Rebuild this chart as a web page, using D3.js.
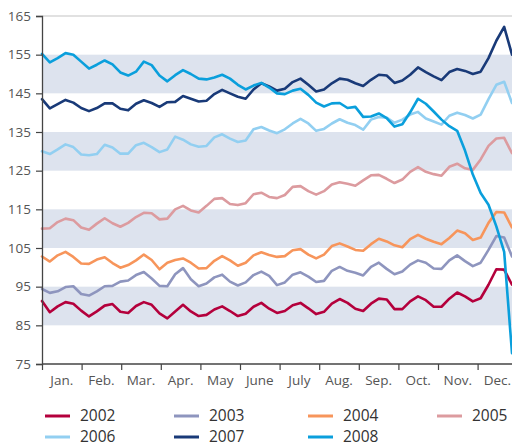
<!DOCTYPE html>
<html>
<head>
<meta charset="utf-8">
<script src="https://cdn.jsdelivr.net/npm/d3@7"></script>
<style>
  html, body { margin: 0; padding: 0; background: #fff; }
  svg { display: block; font-family: "Open Sans", "Noto Sans", sans-serif; }
</style>
</head>
<body>
<svg id="chart" width="512" height="448"></svg>
<script>
// ---------- DATA ----------
const months = ["Jan.", "Feb.", "Mar.", "Apr.", "May", "June", "July", "Aug.", "Sep.", "Oct.", "Nov.", "Dec."];
const yTicks = [75, 85, 95, 105, 115, 125, 135, 145, 155, 165];
const bands = [[85, 95], [105, 115], [125, 135], [145, 155]];
const years = ["2002", "2003", "2004", "2005", "2006", "2007", "2008"];
const colors = ["#b4003c", "#8e95be", "#f7955b", "#dc9b9f", "#92cff1", "#193a78", "#0a9fdc"];

// Values sampled at 61 equally spaced points through the year (Jan. start to end of Dec.)
const v2002 = [91.3,88.4,89.9,91.0,90.6,88.8,87.3,88.6,90.1,90.5,88.5,88.2,90.0,91.0,90.3,88.1,86.8,88.6,90.3,88.6,87.4,87.7,89.1,89.9,88.7,87.4,88.0,89.8,90.8,89.3,88.2,88.7,90.2,90.8,89.4,87.9,88.5,90.6,91.8,90.8,89.3,88.7,90.6,91.9,91.7,89.2,89.2,91.2,92.5,91.5,89.8,89.8,91.9,93.5,92.5,91.2,92.0,95.5,99.5,99.4,95.5];
const v2003 = [94.4,93.4,93.8,94.9,95.1,93.1,92.7,93.8,95.1,95.2,96.3,96.6,98.0,98.8,97.1,95.2,95.1,98.2,99.8,96.9,95.1,95.8,97.4,98.1,96.3,95.3,96.1,98.0,98.9,97.8,95.4,96.1,98.1,98.7,97.6,96.2,96.5,99.1,100.1,99.1,98.6,97.9,100.1,101.2,99.6,98.2,98.9,100.7,101.8,101.2,99.7,99.6,101.8,103.1,101.6,100.3,101.2,104.5,108.1,107.7,102.8];
const v2004 = [102.8,101.5,103.1,104.0,102.7,101.0,100.9,102.0,102.6,101.1,99.9,100.6,101.8,103.3,101.9,99.5,101.2,101.9,102.3,101.2,99.7,99.8,101.7,102.9,101.8,100.4,101.2,103.1,103.9,103.2,102.7,102.9,104.4,104.7,103.3,102.3,103.3,105.5,106.2,105.4,104.5,104.3,106.0,107.4,106.7,105.7,105.2,107.3,108.4,107.4,106.6,106.0,107.6,109.5,108.8,107.1,107.7,111.5,114.3,114.2,110.3];
const v2005 = [110.0,110.1,111.7,112.6,112.2,110.3,109.7,111.3,112.7,111.4,110.5,111.5,113.0,114.1,114.0,112.4,112.6,115.0,115.9,114.7,114.2,115.9,117.7,117.9,116.4,116.1,116.6,118.9,119.3,118.2,117.9,118.7,120.8,121.0,119.7,118.8,119.7,121.4,122.0,121.6,121.1,122.5,123.8,123.9,122.9,121.8,122.7,124.7,125.9,124.7,124.1,123.7,126.0,126.8,125.6,125.2,127.9,131.4,133.3,133.5,129.5];
const v2006 = [130.0,129.3,130.5,131.8,131.1,129.2,129.0,129.3,131.7,131.0,129.4,129.4,131.6,132.2,131.1,129.8,130.5,133.8,133.0,131.8,131.2,131.4,133.6,134.4,133.3,132.4,132.8,135.7,136.3,135.4,134.7,135.7,137.2,138.4,137.2,135.3,135.8,137.2,138.3,137.4,136.8,135.6,138.2,138.9,138.7,137.4,138.2,139.5,140.2,138.5,137.7,136.9,139.2,140.0,139.4,138.5,139.5,143.5,147.2,148.0,142.5];
const v2007 = [143.5,141.1,142.2,143.3,142.6,141.2,140.4,141.2,142.4,142.4,141.0,140.6,142.3,143.2,142.5,141.5,142.7,142.8,144.3,143.6,142.9,143.1,144.8,145.9,145.0,144.1,143.6,146.0,147.6,146.8,145.7,146.2,147.9,148.8,147.2,145.5,146.0,147.6,148.8,148.5,147.6,146.9,148.5,149.8,149.6,147.7,148.3,149.8,151.7,150.5,149.4,148.4,150.5,151.3,150.8,150.0,150.6,154.1,158.6,162.2,155.0];
const v2008 = [155.2,153.0,154.1,155.4,155.0,153.2,151.4,152.4,153.5,152.5,150.4,149.6,150.6,153.2,152.3,149.6,148.1,149.7,151.0,150.0,148.8,148.6,149.1,149.8,148.8,147.2,146.0,147.0,147.7,146.5,145.0,144.8,145.7,146.2,144.6,142.6,141.6,142.4,142.5,141.2,141.5,138.9,139.0,139.8,138.6,136.4,137.0,140.1,143.6,142.3,140.3,138.2,136.5,135.3,130.2,124.0,119.2,116.2,110.6,104.0,77.8];
const seriesValues = [v2002, v2003, v2004, v2005, v2006, v2007, v2008];

// ---------- LAYOUT ----------
const svg = d3.select("#chart");
const plotLeft = 42, plotRight = 512, plotTop = 16, plotBottom = 364;
const monthWidth = 39.6;

const y = d3.scaleLinear().domain([75, 165]).range([plotBottom, plotTop]);
const xMonth = d3.scaleLinear().domain([0, 12]).range([plotLeft, plotLeft + 12 * monthWidth]);
const xIdx = d3.scaleLinear().domain([0, v2008.length - 1]).range([plotLeft, plotRight]);

// Bands
svg.append("g").selectAll("rect").data(bands).join("rect")
  .attr("x", plotLeft).attr("width", plotRight - plotLeft)
  .attr("y", d => y(d[1])).attr("height", d => y(d[0]) - y(d[1]))
  .attr("fill", "#dde3ee");

// Top gridline
svg.append("line")
  .attr("x1", plotLeft).attr("x2", plotRight)
  .attr("y1", y(165)).attr("y2", y(165))
  .attr("stroke", "#c4c4c4").attr("stroke-width", 1.2);

// Lines
const line = d3.line().x((d, i) => xIdx(i)).y(d => y(d));
svg.append("g").selectAll("path").data(seriesValues).join("path")
  .attr("d", d => line(d))
  .attr("fill", "none")
  .attr("stroke", (d, i) => colors[i])
  .attr("stroke-width", 2.6)
  .attr("stroke-linejoin", "round")
  .attr("stroke-linecap", "round");

// Y axis
const yAxis = svg.append("g")
  .attr("transform", `translate(${plotLeft},0)`)
  .call(d3.axisLeft(y).tickValues(yTicks).tickSize(6).tickPadding(5).tickFormat(d3.format("d")));
yAxis.select(".domain").attr("stroke", "#444").attr("stroke-width", 1.3);
yAxis.selectAll(".tick line").attr("stroke", "#444").attr("stroke-width", 1.2);
yAxis.selectAll(".tick text").attr("fill", "#555").style("font-size", "13.5px")
  .style("font-family", "'Open Sans', 'Noto Sans', sans-serif");

// X axis (month boundaries)
const xAxis = svg.append("g")
  .attr("transform", `translate(0,${plotBottom})`)
  .call(d3.axisBottom(xMonth).tickValues(d3.range(0, 12)).tickSize(6).tickFormat(""));
xAxis.select(".domain").remove();
xAxis.append("line").attr("x1", plotLeft).attr("x2", plotRight).attr("stroke", "#444").attr("stroke-width", 1.3);
xAxis.selectAll(".tick line").attr("stroke", "#444").attr("stroke-width", 1.2);

// Month labels centered between ticks
svg.append("g").selectAll("text").data(months).join("text")
  .attr("x", (d, i) => xMonth(i + 0.5))
  .attr("y", 385)
  .attr("text-anchor", "middle")
  .attr("fill", "#555")
  .style("font-size", "13.5px")
  .text(d => d);

// Legend
const legendCols = [45, 174, 308, 437];
const legendRows = [416, 437];
const legend = svg.append("g").selectAll("g").data(years).join("g")
  .attr("transform", (d, i) => `translate(${legendCols[i % 4]},${legendRows[Math.floor(i / 4)]})`);
legend.append("line").attr("x1", 0).attr("x2", 25).attr("y1", 0).attr("y2", 0)
  .attr("stroke", (d, i) => colors[i]).attr("stroke-width", 3);
legend.append("text").attr("x", 35).attr("y", 0).attr("dy", "0.35em")
  .attr("fill", "#333").style("font-size", "15.5px").text(d => d);
</script>
</body>
</html>
